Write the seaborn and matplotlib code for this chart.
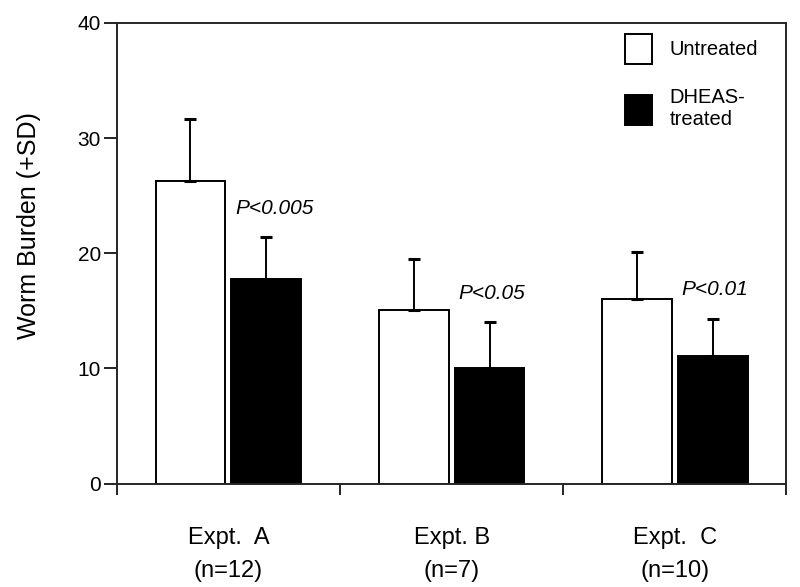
import pandas as pd
import seaborn as sns
import matplotlib.pyplot as plt

experiments = ["Expt.  A\n(n=12)", "Expt. B\n(n=7)", "Expt.  C\n(n=10)"]
groups = ["Untreated", "DHEAS-\ntreated"]
untreated = [26.3, 15.1, 16.0]
untreated_sd = [5.4, 4.4, 4.1]
dheas = [17.8, 10.0, 11.1]
dheas_sd = [3.6, 4.0, 3.2]
p_labels = ["P<0.005", "P<0.05", "P<0.01"]
p_height = [23.9, 16.5, 16.9]

df = pd.DataFrame({
    'expt': experiments * 2,
    'group': [groups[0]] * 3 + [groups[1]] * 3,
    'burden': untreated + dheas,
    'sd': untreated_sd + dheas_sd,
})

sns.set_style("ticks")
plt.rcParams['font.family'] = ['Liberation Sans', 'DejaVu Sans']
plt.rcParams['axes.linewidth'] = 1.4
plt.rcParams['text.color'] = 'black'
plt.rcParams['xtick.color'] = 'black'
plt.rcParams['ytick.color'] = 'black'
plt.rcParams['axes.labelcolor'] = 'black'

fig = plt.figure(figsize=(8, 5.87), dpi=100)
ax = fig.add_axes([0.146, 0.176, 0.837, 0.785])

sns.barplot(df, x='expt', y='burden', hue='group', hue_order=groups,
            palette={groups[0]: 'white', groups[1]: 'black'},
            edgecolor='black', linewidth=1.4, width=0.68, gap=0.08,
            errorbar=None, ax=ax)

# upward-only SD bars, matched to each drawn bar
bars = [p for p in ax.patches if p.get_height() > 0]
for bar in bars:
    cx = bar.get_x() + bar.get_width() / 2
    h = bar.get_height()
    row = df[(df['burden'] - h).abs() < 1e-6].iloc[0]
    ax.errorbar(cx, h, yerr=[[0], [row['sd']]], fmt='none', ecolor='black',
                elinewidth=1.4, capsize=4, capthick=2.2, zorder=1)

for i, (lab, yy) in enumerate(zip(p_labels, p_height)):
    ax.text(i + 0.03, yy, lab, fontsize=15, fontstyle='italic',
            ha='left', va='center')

ax.set_xlim(-0.5, 2.5)
ax.set_ylim(0, 40)
ax.set_yticks([0, 10, 20, 30, 40])
ax.tick_params(axis='y', labelsize=15, length=9.5, width=1.2, pad=2)
ax.set_xticks([-0.5, 0.5, 1.5, 2.5])
ax.set_xticklabels([])
ax.tick_params(axis='x', which='major', length=8, width=1.2)
ax.set_xticks([0, 1, 2], minor=True)
ax.set_xticklabels(experiments, minor=True, fontsize=17, linespacing=1.65)
ax.tick_params(axis='x', which='minor', length=0, pad=31)
ax.set_xlabel('')
ax.set_ylabel('Worm Burden (+SD)', fontsize=18)
ax.yaxis.set_label_coords(-0.113, 0.56)
for s in ax.spines.values():
    s.set_visible(True)
    s.set_linewidth(1.4)

leg = ax.legend(loc='upper right', frameon=False, fontsize=14.5,
                handlelength=1.3, handleheight=1.9, handletextpad=0.9,
                labelspacing=1.2, bbox_to_anchor=(0.985, 1.015))
for h in leg.legend_handles:
    h.set_edgecolor('black')
    h.set_linewidth(1.4)

fig.savefig('out.png', dpi=100)
